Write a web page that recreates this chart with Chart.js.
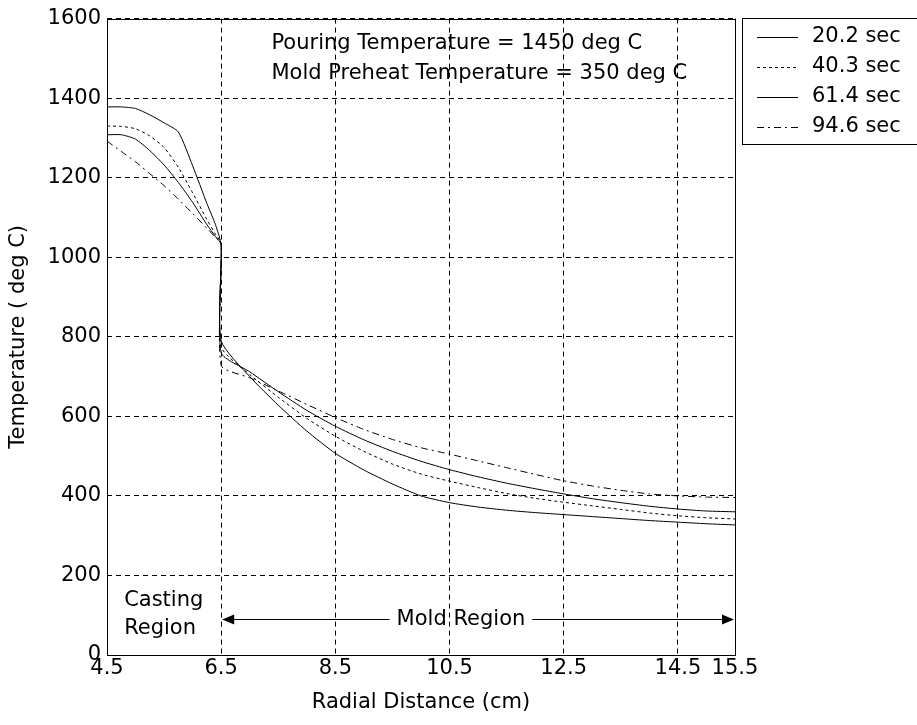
<!DOCTYPE html>
<html>
<head>
<meta charset="utf-8">
<script src="https://cdn.jsdelivr.net/npm/chart.js@4"></script>
<style>
  body { margin: 0; background: #fff; }
  #wrap { width: 917px; height: 725px; }
</style>
</head>
<body>
<div id="wrap"><canvas id="tempChart"></canvas></div>
<script>
const FONT = "'DejaVu Sans', sans-serif";
const SIZE = 21;

// radial positions (cm)
const castX = [4.5, 4.75, 5.0, 5.25, 5.5, 5.75, 6.0, 6.25, 6.4, 6.5];
const moldX = [6.5, 7.0, 7.5, 8.0, 8.5, 9.0, 9.5, 10.0, 10.5, 11.0, 11.5, 12.0, 12.5, 13.0, 13.5, 14.0, 14.5, 15.0, 15.5];

const times = ["20.2 sec", "40.3 sec", "61.4 sec", "94.6 sec"];

// temperatures (deg C) inside the casting
const cast20 = [1378, 1378, 1374, 1358, 1338, 1315, 1230, 1135, 1082, 1030];
const cast40 = [1330, 1329, 1323, 1305, 1276, 1226, 1162, 1095, 1058, 1035];
const cast61 = [1308, 1308, 1297, 1268, 1232, 1188, 1138, 1082, 1052, 1032];
const cast94 = [1292, 1266, 1240, 1210, 1180, 1146, 1110, 1073, 1050, 1035];

// temperatures (deg C) inside the mold
const mold20 = [790, 700, 628, 563, 507, 465, 430, 400, 383, 372, 364, 358, 353, 348, 343, 338, 334, 330, 327];
const mold40 = [775, 705, 648, 595, 550, 512, 480, 455, 437, 421, 406, 394, 384, 375, 366, 357, 350, 345, 342];
const mold61 = [760, 712, 662, 615, 575, 541, 512, 487, 466, 448, 432, 418, 405, 393, 383, 374, 367, 362, 360];
const mold94 = [728, 697, 664, 630, 597, 567, 542, 521, 505, 488, 471, 454, 438, 425, 414, 405, 400, 397, 396];

const xTicks = [4.5, 6.5, 8.5, 10.5, 12.5, 14.5, 15.5];
const yTicks = [0, 200, 400, 600, 800, 1000, 1200, 1400, 1600];

const dashes = [[], [3, 3], [], [7, 4, 2, 4]];

function profile(cast, mold) {
  const pts = castX.map((x, i) => ({ x: x, y: cast[i] }));
  return pts.concat(moldX.map((x, i) => ({ x: x, y: mold[i] })));
}

const profiles = [
  profile(cast20, mold20),
  profile(cast40, mold40),
  profile(cast61, mold61),
  profile(cast94, mold94),
];

// text under the grid: the grid is drawn on top of it
const notesUnder = {
  id: "notesUnder",
  beforeDraw(chart) {
    const { ctx, scales } = chart;
    const x = scales.x, y = scales.y;
    ctx.save();
    ctx.fillStyle = "#000";
    ctx.font = SIZE + "px " + FONT;
    ctx.textBaseline = "middle";
    ctx.textAlign = "left";
    ctx.fillText("Pouring Temperature = 1450 deg C", x.getPixelForValue(7.38), y.getPixelForValue(1538));
    ctx.fillText("Mold Preheat Temperature = 350 deg C", x.getPixelForValue(7.38), y.getPixelForValue(1463));
    ctx.fillText("Casting", x.getPixelForValue(4.8), y.getPixelForValue(136));
    ctx.fillText("Region", x.getPixelForValue(4.8), y.getPixelForValue(66));
    ctx.restore();
  },
};

// frame, mold region arrow and the legend box
const frame = {
  id: "frame",
  afterDraw(chart) {
    const { ctx, chartArea: a, scales } = chart;
    const x = scales.x, y = scales.y;
    ctx.save();
    ctx.strokeStyle = "#000";
    ctx.fillStyle = "#000";
    ctx.lineWidth = 1;
    ctx.setLineDash([]);
    ctx.strokeRect(Math.round(a.left) + 0.5, Math.round(a.top) + 0.5,
      Math.round(a.right - a.left), Math.round(a.bottom - a.top));

    // double arrow across the mold
    const ay = Math.round(y.getPixelForValue(90)) + 0.5;
    const x0 = x.getPixelForValue(6.5) + 1;
    const x1 = x.getPixelForValue(15.5) - 1;
    ctx.font = SIZE + "px " + FONT;
    ctx.textBaseline = "middle";
    ctx.textAlign = "center";
    const label = "Mold Region";
    const cx = x.getPixelForValue(10.7);
    const half = ctx.measureText(label).width / 2 + 7;
    ctx.beginPath();
    ctx.moveTo(x0 + 8, ay); ctx.lineTo(cx - half, ay);
    ctx.moveTo(cx + half, ay); ctx.lineTo(x1 - 8, ay);
    ctx.stroke();
    ctx.beginPath();
    ctx.moveTo(x0, ay); ctx.lineTo(x0 + 12, ay - 5); ctx.lineTo(x0 + 12, ay + 5); ctx.closePath();
    ctx.moveTo(x1, ay); ctx.lineTo(x1 - 12, ay - 5); ctx.lineTo(x1 - 12, ay + 5); ctx.closePath();
    ctx.fill();
    ctx.fillText(label, cx, ay);

    // legend
    const lx = 742, ly = 18;
    ctx.fillStyle = "#fff";
    ctx.fillRect(lx, ly, 200, 127);
    ctx.strokeRect(lx + 0.5, ly + 0.5, 200, 126);
    ctx.fillStyle = "#000";
    ctx.textAlign = "left";
    chart.data.datasets.forEach((ds, i) => {
      const ry = ly + 19 + i * 30;
      ctx.setLineDash(ds.borderDash);
      ctx.beginPath();
      ctx.moveTo(757, Math.round(ry) + 0.5);
      ctx.lineTo(798, Math.round(ry) + 0.5);
      ctx.stroke();
      ctx.setLineDash([]);
      ctx.fillText(ds.label, 812, ry);
    });
    ctx.restore();
  },
};

new Chart(document.getElementById("tempChart"), {
  type: "line",
  data: {
    datasets: times.map((t, i) => ({
      label: t,
      data: profiles[i],
      borderColor: "#000",
      borderWidth: 1,
      borderDash: dashes[i],
      pointRadius: 0,
      tension: 0.2,
      fill: false,
    })),
  },
  options: {
    responsive: true,
    maintainAspectRatio: false,
    animation: false,
    layout: {
      padding: { left: 0, right: 182, top: 18, bottom: 0 },
    },
    plugins: {
      legend: { display: false },
      tooltip: { enabled: false },
    },
    scales: {
      x: {
        type: "linear",
        min: 4.5,
        max: 15.5,
        afterBuildTicks: (s) => { s.ticks = xTicks.map((v) => ({ value: v })); },
        afterFit: (s) => { s.height = 70; },
        ticks: {
          autoSkip: false,
          maxRotation: 0,
          padding: 1,
          color: "#000",
          font: { family: FONT, size: SIZE },
          callback: (v) => Number(v).toFixed(1),
        },
        grid: { color: "#000", lineWidth: 1, drawTicks: false },
        border: { display: false, dash: [5, 4] },
        title: {
          display: true,
          text: "Radial Distance (cm)",
          color: "#000",
          font: { family: FONT, size: SIZE },
          padding: { top: 0, bottom: 10 },
        },
      },
      y: {
        min: 0,
        max: 1600,
        afterBuildTicks: (s) => { s.ticks = yTicks.map((v) => ({ value: v })); },
        afterFit: (s) => { s.width = 107; },
        ticks: {
          padding: 6,
          color: "#000",
          font: { family: FONT, size: SIZE },
          callback: (v) => String(v),
        },
        grid: { color: "#000", lineWidth: 1, drawTicks: false },
        border: { display: false, dash: [5, 4] },
        title: {
          display: true,
          text: "Temperature ( deg C)",
          color: "#000",
          font: { family: FONT, size: SIZE },
          padding: { top: 6, bottom: 0 },
        },
      },
    },
  },
  plugins: [notesUnder, frame],
});
</script>
</body>
</html>
